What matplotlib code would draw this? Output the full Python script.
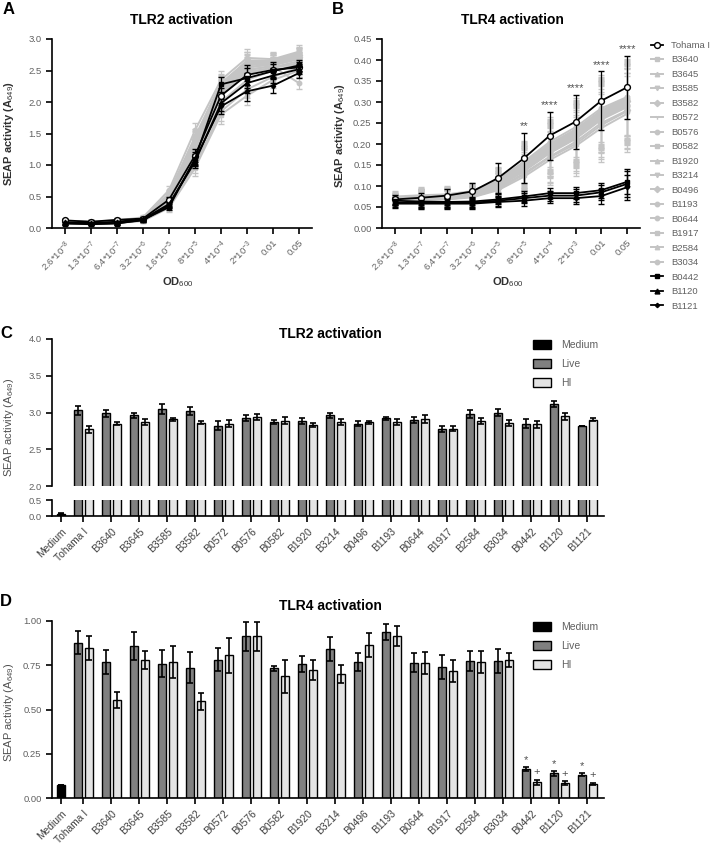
import numpy as np
import matplotlib
matplotlib.use("Agg")
import matplotlib.pyplot as plt
from matplotlib.patches import Patch

plt.rcParams["font.family"] = ["Liberation Sans", "DejaVu Sans"]
plt.rcParams["mathtext.fontset"] = "custom"
plt.rcParams["mathtext.rm"] = "Liberation Sans"
plt.rcParams["mathtext.it"] = "Liberation Sans:italic"
plt.rcParams["mathtext.bf"] = "Liberation Sans:bold"

# ---- data ---------------------------------------------------------------
conc_labels = [r"2.6*10$^{-8}$", r"1.3*10$^{-7}$", r"6.4*10$^{-7}$", r"3.2*10$^{-6}$",
               r"1.6*10$^{-5}$", r"8*10$^{-5}$", r"4*10$^{-4}$", r"2*10$^{-3}$",
               "0.01", "0.05"]

grey_strains = ["B3640", "B3645", "B3585", "B3582", "B0572", "B0576", "B0582", "B1920",
                "B3214", "B0496", "B1193", "B0644", "B1917", "B2584", "B3034"]
grey_markers = ["s", "^", "v", "D", "1", "o", "s", "^", "v", "D", "o", "o", "s", "^", "o"]

# panel A, TLR2 dose response
grey_a = [
    [0.10, 0.08, 0.10, 0.14, 0.45, 1.30, 2.20, 2.55, 2.60, 2.70],
    [0.09, 0.07, 0.09, 0.13, 0.40, 1.20, 2.10, 2.45, 2.55, 2.65],
    [0.11, 0.09, 0.11, 0.16, 0.55, 1.45, 2.30, 2.65, 2.65, 2.75],
    [0.10, 0.08, 0.10, 0.15, 0.50, 1.40, 2.25, 2.60, 2.62, 2.72],
    [0.08, 0.07, 0.08, 0.12, 0.35, 1.00, 1.85, 2.20, 2.40, 2.55],
    [0.12, 0.10, 0.12, 0.17, 0.60, 1.55, 2.35, 2.70, 2.68, 2.80],
    [0.09, 0.08, 0.09, 0.13, 0.42, 1.25, 2.15, 2.50, 2.58, 2.68],
    [0.10, 0.09, 0.11, 0.15, 0.48, 1.35, 2.25, 2.55, 2.60, 2.70],
    [0.08, 0.07, 0.08, 0.12, 0.38, 1.10, 2.00, 2.35, 2.50, 2.60],
    [0.11, 0.09, 0.11, 0.16, 0.52, 1.42, 2.28, 2.62, 2.64, 2.74],
    [0.09, 0.08, 0.09, 0.13, 0.44, 1.28, 2.18, 2.52, 2.56, 2.30],
    [0.10, 0.08, 0.10, 0.14, 0.46, 1.32, 2.22, 2.58, 2.62, 2.76],
    [0.07, 0.06, 0.08, 0.11, 0.32, 0.95, 1.80, 2.10, 2.35, 2.50],
    [0.10, 0.09, 0.10, 0.15, 0.50, 1.38, 2.26, 2.66, 2.66, 2.78],
    [0.09, 0.08, 0.09, 0.14, 0.43, 1.22, 2.12, 2.48, 2.54, 2.62],
]
grey_err_a = [0.03, 0.03, 0.03, 0.03, 0.06, 0.12, 0.15, 0.14, 0.12, 0.10]

tohama_a = [0.12, 0.10, 0.13, 0.15, 0.45, 1.15, 2.10, 2.43, 2.51, 2.55]
b0442_a = [0.07, 0.06, 0.07, 0.13, 0.33, 1.10, 2.28, 2.38, 2.49, 2.58]
b1120_a = [0.09, 0.08, 0.10, 0.14, 0.38, 1.05, 1.98, 2.30, 2.42, 2.52]
b1121_a = [0.08, 0.07, 0.08, 0.12, 0.36, 1.08, 1.93, 2.17, 2.26, 2.46]
black_err_a = [0.03, 0.02, 0.03, 0.03, 0.05, 0.10, 0.12, 0.16, 0.12, 0.08]

# panel B, TLR4 dose response
grey_b = [
    [0.070, 0.072, 0.075, 0.082, 0.110, 0.150, 0.195, 0.230, 0.275, 0.305],
    [0.068, 0.070, 0.072, 0.078, 0.100, 0.140, 0.185, 0.220, 0.265, 0.295],
    [0.072, 0.074, 0.078, 0.085, 0.112, 0.155, 0.200, 0.235, 0.280, 0.310],
    [0.066, 0.068, 0.070, 0.075, 0.095, 0.130, 0.170, 0.205, 0.250, 0.280],
    [0.070, 0.071, 0.074, 0.080, 0.105, 0.145, 0.190, 0.225, 0.270, 0.300],
    [0.075, 0.078, 0.080, 0.088, 0.115, 0.158, 0.205, 0.240, 0.285, 0.312],
    [0.067, 0.069, 0.071, 0.077, 0.098, 0.135, 0.178, 0.212, 0.258, 0.288],
    [0.069, 0.071, 0.073, 0.080, 0.104, 0.142, 0.188, 0.222, 0.268, 0.298],
    [0.065, 0.066, 0.068, 0.073, 0.090, 0.122, 0.162, 0.195, 0.238, 0.272],
    [0.071, 0.073, 0.076, 0.083, 0.108, 0.148, 0.193, 0.228, 0.272, 0.303],
    [0.073, 0.075, 0.078, 0.086, 0.113, 0.152, 0.198, 0.232, 0.278, 0.308],
    [0.068, 0.070, 0.072, 0.079, 0.102, 0.140, 0.183, 0.218, 0.262, 0.292],
    [0.066, 0.067, 0.069, 0.074, 0.093, 0.127, 0.168, 0.200, 0.245, 0.278],
    [0.070, 0.072, 0.074, 0.081, 0.106, 0.146, 0.190, 0.226, 0.270, 0.300],
    [0.069, 0.070, 0.073, 0.079, 0.101, 0.138, 0.181, 0.215, 0.260, 0.290],
]
grey_err_b = [0.012, 0.02, 0.02, 0.02, 0.03, 0.05, 0.06, 0.07, 0.08, 0.09]

tohama_b = [0.068, 0.072, 0.077, 0.087, 0.119, 0.166, 0.220, 0.253, 0.303, 0.335]
tohama_err_b = [0.010, 0.012, 0.015, 0.020, 0.035, 0.060, 0.057, 0.064, 0.070, 0.075]
b0442_b = [0.065, 0.063, 0.062, 0.063, 0.068, 0.075, 0.083, 0.083, 0.090, 0.110]
b1120_b = [0.060, 0.060, 0.060, 0.060, 0.065, 0.071, 0.077, 0.077, 0.085, 0.105]
b1121_b = [0.058, 0.058, 0.058, 0.058, 0.062, 0.065, 0.071, 0.071, 0.076, 0.097]
black_err_b = [0.010, 0.012, 0.012, 0.012, 0.012, 0.012, 0.012, 0.015, 0.018, 0.030]
signif_b = ["", "", "", "", "", "**", "****", "****", "****", "****"]

# panels C and D, bar charts
strains = ["Tohama I", "B3640", "B3645", "B3585", "B3582", "B0572", "B0576", "B0582",
           "B1920", "B3214", "B0496", "B1193", "B0644", "B1917", "B2584", "B3034",
           "B0442", "B1120", "B1121"]

medium_c, medium_c_err = 0.07, 0.02
live_c = [3.03, 2.99, 2.96, 3.05, 3.02, 2.82, 2.93, 2.87, 2.89, 2.96,
          2.85, 2.92, 2.90, 2.77, 2.98, 3.00, 2.85, 3.11, 2.82]
live_c_err = [0.06, 0.05, 0.04, 0.07, 0.05, 0.06, 0.04, 0.03, 0.04, 0.04,
              0.04, 0.02, 0.04, 0.04, 0.06, 0.05, 0.06, 0.04, 0.0]
hi_c = [2.77, 2.85, 2.87, 2.91, 2.86, 2.85, 2.94, 2.89, 2.83, 2.87,
        2.87, 2.87, 2.91, 2.78, 2.88, 2.86, 2.84, 2.95, 2.90]
hi_c_err = [0.05, 0.02, 0.04, 0.02, 0.02, 0.05, 0.04, 0.05, 0.03, 0.04,
            0.02, 0.04, 0.05, 0.03, 0.04, 0.04, 0.05, 0.05, 0.02]

medium_d, medium_d_err = 0.072, 0.0
live_d = [0.876, 0.766, 0.857, 0.759, 0.736, 0.781, 0.913, 0.733, 0.759, 0.842,
          0.768, 0.938, 0.765, 0.740, 0.774, 0.774, 0.164, 0.139, 0.132]
live_d_err = [0.065, 0.068, 0.079, 0.075, 0.088, 0.066, 0.081, 0.015, 0.045, 0.066,
              0.050, 0.047, 0.055, 0.070, 0.057, 0.070, 0.010, 0.015, 0.008]
hi_d = [0.846, 0.556, 0.781, 0.768, 0.546, 0.806, 0.913, 0.687, 0.725, 0.702,
        0.864, 0.915, 0.765, 0.718, 0.766, 0.780, 0.089, 0.085, 0.081]
hi_d_err = [0.068, 0.045, 0.050, 0.088, 0.047, 0.098, 0.081, 0.094, 0.057, 0.050,
            0.066, 0.058, 0.062, 0.064, 0.062, 0.040, 0.015, 0.010, 0.006]
live_d_mark = [""] * 16 + ["*", "*", "*"]
hi_d_mark = [""] * 16 + ["+", "+", "+"]

# ---- style --------------------------------------------------------------
W, H = 720, 856
GREY = "#c4c4c4"
LIVE = "#808080"
HI = "#e4e4e4"
TICK_COLOR = "#606060"


def box(left, top, right, bottom):
    return [left / W, 1 - bottom / H, (right - left) / W, (bottom - top) / H]


def ftext(x, y, s, **kw):
    fig.text(x / W, 1 - y / H, s, ha="center", va="center", **kw)


def style(ax):
    for side in ("top", "right"):
        ax.spines[side].set_visible(False)
    for side in ("left", "bottom"):
        ax.spines[side].set_linewidth(1.2)
    ax.tick_params(width=1.2, length=4, labelsize=6.8, labelcolor=TICK_COLOR)


fig = plt.figure(figsize=(W / 100, H / 100), dpi=100)

# ---- A and B: dose response curves ---------------------------------------
x = np.arange(len(conc_labels))


def curves(ax, grey, grey_err, black, black_err):
    for vals, mk, name in zip(grey, grey_markers, grey_strains):
        ax.errorbar(x, vals, yerr=grey_err, fmt="none", ecolor=GREY, elinewidth=0.8,
                    capsize=2, zorder=1)
        ax.plot(x, vals, color=GREY, marker=mk, ms=3.2, lw=1.4, label=name, zorder=2)
    for (vals, err), mk, ms, mfc, name in zip(
            zip(black, black_err), ["o", "s", "^", "D"], [4.2, 3.5, 3.5, 2.2],
            ["white", "black", "black", "black"], ["Tohama I", "B0442", "B1120", "B1121"]):
        ax.errorbar(x, vals, yerr=err, fmt="none", ecolor="black", elinewidth=0.9,
                    capsize=2, zorder=3)
        ax.plot(x, vals, color="black", marker=mk, ms=ms, mfc=mfc, mec="black",
                lw=1.3, label=name, zorder=4)
    ax.set_xlim(-0.5, 9.5)
    ax.set_xticks(x)
    ax.set_xticklabels(conc_labels, rotation=45, ha="right", rotation_mode="anchor",
                       fontsize=7.4)
    style(ax)


ax_a = fig.add_axes(box(52, 39, 312, 228))
curves(ax_a, grey_a, grey_err_a, [tohama_a, b0442_a, b1120_a, b1121_a],
       [black_err_a] * 4)
ax_a.set_ylim(0, 3.0)
ax_a.set_yticks(np.arange(0, 3.01, 0.5))
ax_a.yaxis.set_major_formatter(plt.FormatStrFormatter("%.1f"))

ax_b = fig.add_axes(box(382, 39, 640, 228))
curves(ax_b, grey_b, grey_err_b, [tohama_b, b0442_b, b1120_b, b1121_b],
       [tohama_err_b, black_err_b, black_err_b, black_err_b])
ax_b.set_ylim(0, 0.45)
ax_b.set_yticks(np.arange(0, 0.451, 0.05))
ax_b.yaxis.set_major_formatter(plt.FormatStrFormatter("%.2f"))
for xi, (v, e, s) in enumerate(zip(tohama_b, tohama_err_b, signif_b)):
    if s:
        ax_b.text(xi, v + e + 0.004, s, ha="center", va="bottom", fontsize=8,
                  color="#505050")

handles, labels = ax_b.get_legend_handles_labels()
order = [labels.index(n) for n in ["Tohama I"] + grey_strains + ["B0442", "B1120", "B1121"]]
fig.legend([handles[i] for i in order], [labels[i] for i in order],
           loc="upper left", bbox_to_anchor=(651 / W, 1 - 41 / H), frameon=False,
           fontsize=6.8, labelspacing=0.58, handlelength=1.3, handletextpad=0.8,
           labelcolor=TICK_COLOR, borderaxespad=0, borderpad=0)

for ax, cx, cy, lx, ly, title in [(ax_a, 181, 20, 9, 133, "TLR2 activation"),
                                  (ax_b, 512, 20, 340, 135, "TLR4 activation")]:
    ftext(cx, cy, title, fontsize=10, fontweight="bold")
    ftext(lx, ly, r"SEAP activity (A$_{649}$)", fontsize=8, rotation=90,
          color="#303030", fontweight="bold")
ftext(178, 282, r"OD$_{600}$", fontsize=8, fontweight="bold", color="#303030")
ftext(508, 282, r"OD$_{600}$", fontsize=8, fontweight="bold", color="#303030")

# ---- C and D: bar charts -------------------------------------------------
pos = np.arange(1, len(strains) + 1, dtype=float)
medium_pos = 0.2
bw = 0.28
off = 0.196
ekw = dict(elinewidth=1.2, capsize=2, capthick=1.2, ecolor="black")


def bars(ax, medium, medium_err, live, live_err, hi, hi_err):
    ax.bar(medium_pos, medium, bw, yerr=medium_err, color="black", edgecolor="black",
           lw=1, error_kw=ekw)
    ax.bar(pos - off, live, bw, yerr=live_err, color=LIVE, edgecolor="black", lw=1,
           error_kw=ekw)
    ax.bar(pos + off, hi, bw, yerr=hi_err, color=HI, edgecolor="black", lw=1,
           error_kw=ekw)
    ax.set_xlim(-0.125, 19.6)
    style(ax)


def xlabels(ax):
    ax.set_xticks(np.concatenate([[medium_pos], pos]))
    ax.set_xticklabels(["Medium"] + strains, rotation=45, ha="right",
                       rotation_mode="anchor", color="#404040", fontsize=7.4)
    ax.tick_params(axis="x", labelcolor="#404040")


def bar_legend(top):
    hs = [Patch(facecolor=c, edgecolor="black", lw=1) for c in ("black", LIVE, HI)]
    fig.legend(hs, ["Medium", "Live", "HI"], loc="upper left",
               bbox_to_anchor=(533 / W, 1 - top / H), frameon=False, fontsize=7.5,
               labelspacing=0.85, handlelength=1.7, handleheight=0.95,
               handletextpad=1.0, labelcolor=TICK_COLOR, borderaxespad=0, borderpad=0)


ax_c = fig.add_axes(box(52, 339, 604, 486))
bars(ax_c, medium_c, medium_c_err, live_c, live_c_err, hi_c, hi_c_err)
ax_c.set_ylim(2.0, 4.0)
ax_c.set_yticks(np.arange(2.0, 4.01, 0.5))
ax_c.yaxis.set_major_formatter(plt.FormatStrFormatter("%.1f"))
ax_c.spines["bottom"].set_visible(False)
ax_c.set_xticks([])

ax_c2 = fig.add_axes(box(52, 500, 604, 516))
bars(ax_c2, medium_c, medium_c_err, live_c, live_c_err, hi_c, hi_c_err)
ax_c2.set_ylim(0, 0.5)
ax_c2.set_yticks([0.0, 0.5])
ax_c2.yaxis.set_major_formatter(plt.FormatStrFormatter("%.1f"))
xlabels(ax_c2)
bar_legend(340)

ax_d = fig.add_axes(box(52, 621, 604, 798))
bars(ax_d, medium_d, medium_d_err, live_d, live_d_err, hi_d, hi_d_err)
ax_d.set_ylim(0, 1.0)
ax_d.set_yticks(np.arange(0, 1.01, 0.25))
ax_d.yaxis.set_major_formatter(plt.FormatStrFormatter("%.2f"))
xlabels(ax_d)
for p, v, e, m in zip(pos - off, live_d, live_d_err, live_d_mark):
    if m:
        ax_d.text(p, v + e + 0.012, m, ha="center", va="bottom", fontsize=8, color="#505050")
for p, v, e, m in zip(pos + off, hi_d, hi_d_err, hi_d_mark):
    if m:
        ax_d.text(p, v + e + 0.012, m, ha="center", va="bottom", fontsize=8, color="#505050")
bar_legend(622)

ftext(330, 334, "TLR2 activation", fontsize=10, fontweight="bold")
ftext(330, 606, "TLR4 activation", fontsize=10, fontweight="bold")
ftext(9, 427, r"SEAP activity (A$_{649}$)", fontsize=8, rotation=90, color="#505050")
ftext(9, 712, r"SEAP activity (A$_{649}$)", fontsize=8, rotation=90, color="#505050")

for letter, lx, ly in [("A", 9, 10), ("B", 338, 10), ("C", 6, 334), ("D", 6, 601)]:
    ftext(lx, ly, letter, fontsize=12, fontweight="bold")

fig.savefig("out.png", dpi=100)
